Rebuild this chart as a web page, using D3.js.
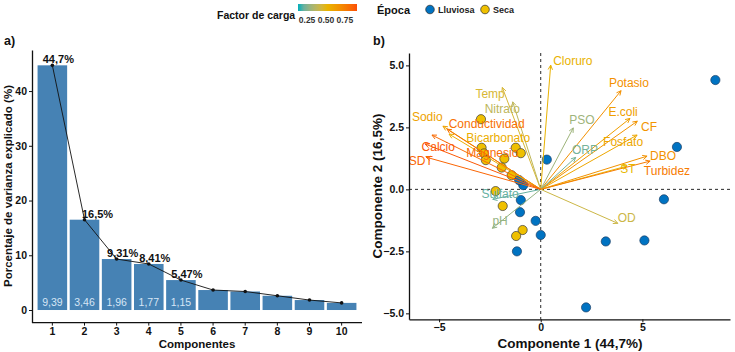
<!DOCTYPE html>
<html>
<head>
<meta charset="utf-8">
<script src="https://cdn.jsdelivr.net/npm/d3@7"></script>
<style>
  body { margin: 0; background: #fff; }
  svg { display: block; font-family: "Liberation Sans", Arial, sans-serif; }
</style>
</head>
<body>
<svg id="chart" width="735" height="352"></svg>
<script>
// --- panel a) scree plot data ---
const components = ["1", "2", "3", "4", "5", "6", "7", "8", "9", "10"]
const varianceExplained = [44.7, 16.5, 9.31, 8.41, 5.47, 3.65, 3.38, 2.6, 1.82, 1.3]
const varianceLabels = ["44,7%", "16,5%", "9,31%", "8,41%", "5,47%", "", "", "", "", ""]
const eigenLabels = ["9,39", "3,46", "1,96", "1,77", "1,15", "", "", "", "", ""]
const screeTicks = [0, 10, 20, 30, 40]

// --- panel b) biplot data ---
const varNames = ["Cloruro", "Potasio", "E.coli", "CF", "Fosfato", "PSO", "ORP", "DBO", "ST", "Turbidez",
  "OD", "Sulfato", "pH", "Temp", "Nitrato", "Sodio", "Conductividad", "Bicarbonato", "Calcio", "Magnesio", "SDT"]
const loadX = [0.49, 3.95, 4.39, 4.75, 4.74, 1.60, 1.72, 5.23, 4.24, 5.38,
  3.79, -2.36, -2.38, -1.89, -1.38, -4.81, -4.61, -4.51, -5.69, -5.35, -5.64]
const loadY = [5.01, 3.98, 2.86, 2.75, 2.19, 2.48, 1.29, 1.34, 0.94, 1.14,
  -1.37, -0.40, -1.57, 4.11, 3.53, 2.55, 2.43, 2.23, 1.83, 2.19, 1.30]
const loadFactor = [0.53, 0.68, 0.62, 0.66, 0.58, 0.3, 0.22, 0.67, 0.5, 0.76,
  0.42, 0.2, 0.28, 0.45, 0.38, 0.6, 0.8, 0.55, 0.88, 0.82, 0.84]
const labelX = [1.58, 4.34, 4.05, 5.33, 4.05, 2.02, 2.18, 6.02, 4.29, 6.21,
  4.23, -2.0, -2.0, -2.49, -1.89, -5.58, -2.66, -2.09, -5.04, -2.38, -5.90]
const labelY = [5.17, 4.29, 3.13, 2.51, 1.92, 2.79, 1.58, 1.34, 0.82, 0.75,
  -1.13, -0.16, -1.28, 3.87, 3.24, 2.93, 2.63, 2.06, 1.72, 1.49, 1.15]

const lluviosaX = [8.59, 6.70, 6.06, 5.10, 3.20, 2.23, 0.30, 0.0, -0.25, -0.98, -1.02, -1.17, -0.86, -1.06]
const lluviosaY = [4.41, 1.71, -0.40, -2.06, -2.10, -4.76, 1.20, -1.84, -1.27, -0.43, -0.92, -2.50, 0.17, 0.37]
const secaX = [-2.94, -2.91, -2.79, -2.70, -1.79, -1.92, -1.23, -0.98, -1.43, -2.22, -1.87, -0.89, -1.21]
const secaY = [2.83, 1.68, 1.45, 1.18, 1.24, 0.88, 1.68, 1.46, 0.57, -0.07, -0.67, -1.64, -1.88]
const pcTicksX = [-5, 0, 5]
const pcTicksY = [-5, -2.5, 0, 2.5, 5]
const factorTicks = [0.25, 0.5, 0.75]

const svg = d3.select("#chart")
const ink = "#111"

const colorScale = d3.scaleLinear()
  .domain([0.13, 0.5, 0.91])
  .range(["#00AFBB", "#E7B800", "#FC4E07"])
  .interpolate(d3.interpolateLab)

function styleAxis(ax) {
  ax.select(".domain").attr("stroke", ink).attr("stroke-width", 1.3)
  ax.selectAll("line").attr("stroke", ink)
  ax.selectAll("text").attr("font-size", "10.5px").attr("font-weight", "bold").attr("fill", ink)
    .attr("font-family", "Liberation Sans, Arial, sans-serif")
}

// ================= panel a) =================
const xA = d3.scaleBand().domain(components).range([35, 359]).padding(0.08)
const yA = d3.scaleLinear().domain([-2.3, 47.5]).range([322.6, 50])

const gA = svg.append("g")

gA.selectAll("rect.bar")
  .data(varianceExplained)
  .join("rect")
  .attr("class", "bar")
  .attr("x", (d, i) => xA(components[i]))
  .attr("y", d => yA(d))
  .attr("width", xA.bandwidth())
  .attr("height", d => yA(0) - yA(d))
  .attr("fill", "#4682B4")

// eigenvalues inside bars
gA.selectAll("text.eig")
  .data(eigenLabels)
  .join("text")
  .attr("class", "eig")
  .attr("x", (d, i) => xA(components[i]) + xA.bandwidth() / 2)
  .attr("y", yA(0) - 4)
  .attr("text-anchor", "middle")
  .attr("font-size", "10.5px")
  .attr("fill", "#d6e6f6")
  .text(d => d)

const cx = (d, i) => xA(components[i]) + xA.bandwidth() / 2
const line = d3.line().x(cx).y(d => yA(d))
gA.append("path")
  .datum(varianceExplained)
  .attr("d", line)
  .attr("fill", "none")
  .attr("stroke", ink)
  .attr("stroke-width", 0.9)

gA.selectAll("circle.pt")
  .data(varianceExplained)
  .join("circle")
  .attr("cx", cx)
  .attr("cy", d => yA(d))
  .attr("r", 1.8)
  .attr("fill", ink)

gA.selectAll("text.pct")
  .data(varianceLabels)
  .join("text")
  .attr("x", (d, i) => cx(d, i) + (i === 1 ? 13 : 6))
  .attr("y", (d, i) => yA(varianceExplained[i]) - 2)
  .attr("text-anchor", "middle")
  .attr("font-size", "11px")
  .attr("font-weight", "bold")
  .attr("fill", ink)
  .text(d => d)

// axes a)
const axA = gA.append("g")
  .attr("transform", `translate(32,0)`)
  .call(d3.axisLeft(yA).tickValues(screeTicks).tickSize(3).tickPadding(2).tickSizeOuter(0))
styleAxis(axA)

const axAx = gA.append("g")
  .attr("transform", `translate(0,322.6)`)
  .call(d3.axisBottom(xA).tickSize(3).tickPadding(1.5).tickSizeOuter(0))
styleAxis(axAx)
axAx.select(".domain").attr("d", "M32,0H362")

gA.append("text").attr("x", 197).attr("y", 347.5).attr("text-anchor", "middle")
  .attr("font-size", "11.5px").attr("font-weight", "bold").attr("fill", ink).text("Componentes")
gA.append("text").attr("transform", "translate(12,186) rotate(-90)").attr("text-anchor", "middle")
  .attr("font-size", "11.5px").attr("font-weight", "bold").attr("fill", ink)
  .text("Porcentaje de varianza explicado (%)")
gA.append("text").attr("x", 4).attr("y", 45).attr("font-size", "12.5px")
  .attr("font-weight", "bold").attr("fill", ink).text("a)")

// ================= panel b) =================
const xB = d3.scaleLinear().domain([-6.48, 9.31]).range([409, 730])
const yB = d3.scaleLinear().domain([-5.24, 5.5]).range([319.3, 53])
const gB = svg.append("g")

// reference lines
gB.append("line").attr("x1", xB(0)).attr("x2", xB(0)).attr("y1", yB(5.5)).attr("y2", yB(-5.24))
  .attr("stroke", ink).attr("stroke-dasharray", "3,3").attr("stroke-width", 0.9)
gB.append("line").attr("x1", xB(-6.48)).attr("x2", xB(9.31)).attr("y1", yB(0)).attr("y2", yB(0))
  .attr("stroke", ink).attr("stroke-dasharray", "3,3").attr("stroke-width", 0.9)

// points
function drawPoints(xs, ys, fill, stroke) {
  gB.selectAll(null)
    .data(xs)
    .join("circle")
    .attr("cx", d => xB(d))
    .attr("cy", (d, i) => yB(ys[i]))
    .attr("r", 4.6)
    .attr("fill", fill)
    .attr("stroke", stroke)
    .attr("stroke-width", 0.7)
}
drawPoints(secaX, secaY, "#EFC000", "#3a3a3a")
drawPoints(lluviosaX, lluviosaY, "#0073C2", "#1d3f66")

// arrows
varNames.forEach((name, i) => {
  const col = colorScale(loadFactor[i])
  const x0 = xB(0), y0 = yB(0)
  const x1 = xB(loadX[i]), y1 = yB(loadY[i])
  gB.append("line")
    .attr("x1", x0).attr("y1", y0).attr("x2", x1).attr("y2", y1)
    .attr("stroke", col).attr("stroke-width", 1)
  const ang = Math.atan2(y1 - y0, x1 - x0)
  const len = 5
  const head = [ang + Math.PI - 0.45, ang + Math.PI + 0.45]
    .map(a => [x1 + len * Math.cos(a), y1 + len * Math.sin(a)])
  gB.append("path")
    .attr("d", `M${head[0][0]},${head[0][1]}L${x1},${y1}L${head[1][0]},${head[1][1]}`)
    .attr("fill", "none").attr("stroke", col).attr("stroke-width", 1)
})

varNames.forEach((name, i) => {
  gB.append("text")
    .attr("x", xB(labelX[i]))
    .attr("y", yB(labelY[i]))
    .attr("dy", "0.35em")
    .attr("text-anchor", "middle")
    .attr("font-size", "12px")
    .attr("fill", colorScale(loadFactor[i]))
    .text(name)
})

// axes b)
const axBy = gB.append("g").attr("transform", `translate(409,0)`)
  .call(d3.axisLeft(yB).tickValues(pcTicksY).tickFormat(d3.format(".1f")).tickSize(3).tickPadding(2).tickSizeOuter(0))
styleAxis(axBy)

const axBx = gB.append("g").attr("transform", `translate(0,319.3)`)
  .call(d3.axisBottom(xB).tickValues(pcTicksX).tickFormat(d3.format("d")).tickSize(3).tickPadding(1.5).tickSizeOuter(0))
styleAxis(axBx)

gB.append("text").attr("x", 570).attr("y", 347.5).attr("text-anchor", "middle")
  .attr("font-size", "13.5px").attr("font-weight", "bold").attr("fill", ink).text("Componente 1 (44,7%)")
gB.append("text").attr("transform", "translate(382,186) rotate(-90)").attr("text-anchor", "middle")
  .attr("font-size", "13.5px").attr("font-weight", "bold").attr("fill", ink).text("Componente 2 (16,5%)")
gB.append("text").attr("x", 373).attr("y", 45).attr("font-size", "12.5px")
  .attr("font-weight", "bold").attr("fill", ink).text("b)")

// ================= legends =================
const leg = svg.append("g")
leg.append("text").attr("x", 217).attr("y", 19).attr("font-size", "10.5px")
  .attr("font-weight", "bold").attr("fill", ink).text("Factor de carga")

const gradScale = d3.scaleLinear().domain([0.13, 0.91]).range([298, 357])
const defs = svg.append("defs")
const grad = defs.append("linearGradient").attr("id", "loadGrad")
d3.range(0, 1.0001, 0.1).forEach(t => {
  grad.append("stop").attr("offset", t)
    .attr("stop-color", colorScale(0.13 + t * (0.91 - 0.13)))
})
leg.append("rect").attr("x", gradScale(0.13)).attr("y", 4)
  .attr("width", gradScale(0.91) - gradScale(0.13)).attr("height", 7)
  .attr("fill", "url(#loadGrad)")
leg.selectAll("text.ft")
  .data(factorTicks)
  .join("text")
  .attr("x", d => gradScale(d))
  .attr("y", 23)
  .attr("text-anchor", "middle")
  .attr("font-size", "8.5px")
  .attr("font-weight", "bold")
  .attr("fill", "#333")
  .text(d3.format(".2f"))

leg.append("text").attr("x", 377).attr("y", 14).attr("font-size", "11px")
  .attr("font-weight", "bold").attr("fill", ink).text("Época")
const epocas = ["Lluviosa", "Seca"]
const epocaColors = ["#0073C2", "#EFC000"]
const epocaScale = d3.scaleOrdinal().domain(epocas).range([430, 485])
epocas.forEach((e, i) => {
  leg.append("circle").attr("cx", epocaScale(e)).attr("cy", 9.5).attr("r", 4.3)
    .attr("fill", epocaColors[i]).attr("stroke", "#2a2a2a").attr("stroke-width", 0.7)
  leg.append("text").attr("x", epocaScale(e) + 8).attr("y", 13).attr("font-size", "9px")
    .attr("font-weight", "bold").attr("fill", "#222").text(e)
})
</script>
</body>
</html>
